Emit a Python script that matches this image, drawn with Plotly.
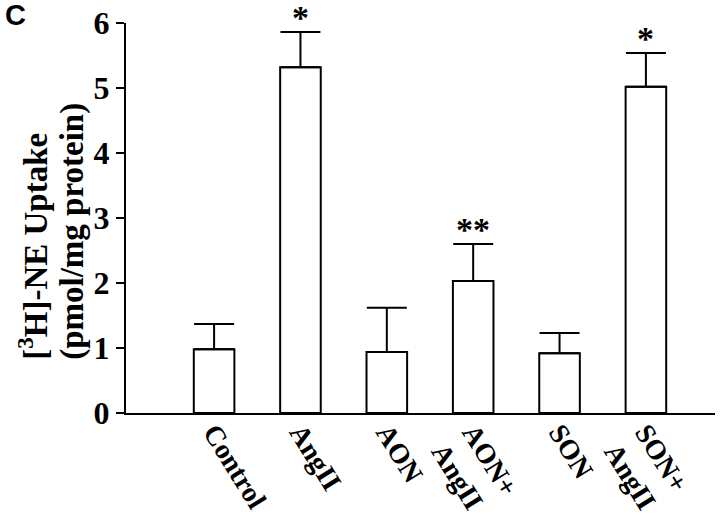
import plotly.graph_objects as go

# group labels, mean uptake and SEM
groups = ["Control", "AngII", "AON", "AON+<br>AngII", "SON", "SON+<br>AngII"]
uptake = [0.98, 5.32, 0.94, 2.03, 0.92, 5.02]
sem = [0.39, 0.54, 0.68, 0.57, 0.31, 0.52]
signif = ["", "*", "", "**", "", "*"]
yticks = [0, 1, 2, 3, 4, 5, 6]
ytitle = ["[<sup>3</sup>H]-NE Uptake", "(pmol/mg protein)"]

serif = "Liberation Serif, Times New Roman, serif"

fig = go.Figure()

fig.add_trace(go.Bar(
    x=groups, y=uptake,
    marker=dict(color="white", line=dict(color="black", width=2)),
    width=0.47,
    error_y=dict(type="data", array=sem, arrayminus=[0] * len(sem), symmetric=False,
                 color="black", thickness=2, width=20),
    showlegend=False,
))

# significance stars above the error caps
for g, u, s, mark in zip(groups, uptake, sem, signif):
    if mark:
        fig.add_annotation(x=g, y=u + s, text=mark, showarrow=False,
                           yanchor="bottom", yshift=-6,
                           font=dict(family=serif, size=34, color="black"))

# y title as two rotated lines, bottoms lined up
for i, line in enumerate(ytitle):
    fig.add_annotation(x=0, y=0.13, xref="paper", yref="paper", xanchor="center", yanchor="bottom",
                       text=line, textangle=-90, showarrow=False, xshift=[-93, -53][i],
                       font=dict(family=serif, size=33, color="black", weight="bold"))

# panel letter
fig.add_annotation(x=0, y=1, xref="paper", yref="paper", xanchor="center", yanchor="top",
                   text="C", showarrow=False, xshift=-111, yshift=26,
                   font=dict(family="Liberation Sans, Arial", size=29, color="black", weight="bold"))

fig.update_layout(
    width=720, height=524,
    margin=dict(l=126, r=5, t=23, b=111),
    plot_bgcolor="white", paper_bgcolor="white",
    font=dict(family=serif, color="black", weight="bold"),
)
fig.update_xaxes(
    range=[-1.02, 5.8], showline=True, linecolor="black", linewidth=2,
    ticks="", tickangle=58, tickfont=dict(size=28, family=serif, weight="bold"),
    ticklabelstandoff=-10,
    showgrid=False, zeroline=False, automargin=False,
)
fig.update_yaxes(
    range=[0, 6], tickvals=yticks, showline=True, linecolor="black", linewidth=2,
    ticks="outside", ticklen=8, tickwidth=2, tickcolor="black",
    tickfont=dict(size=32, family=serif, weight="bold"),
    ticklabeloverflow="allow",
    showgrid=False, zeroline=False, automargin=False,
)

# drop the default 8px page margin so the figure sits at the window corner
fig.write_html("out.html", config={"displayModeBar": False},
               post_script="document.body.style.margin = '0';")
